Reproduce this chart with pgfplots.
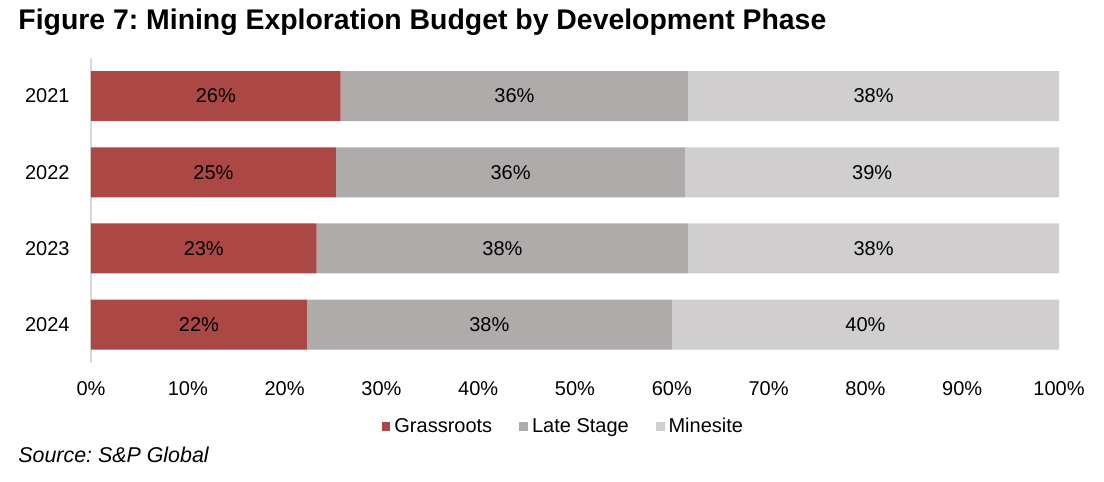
\documentclass[border=0pt]{standalone}
\usepackage{fontspec}
\setmainfont{Liberation Sans}
\usepackage{pgfplots}
\pgfplotsset{compat=1.18}
\usepackage{pgfplotstable}
\definecolor{cG}{RGB}{171,71,68}
\definecolor{cL}{RGB}{175,171,170}
\definecolor{cM}{RGB}{208,206,207}
\definecolor{axgray}{RGB}{217,217,217}

\pgfplotstableread{
y G L M
3 25.8 35.9 38.3
2 25.3 36.1 38.6
1 23.3 38.4 38.3
0 22.3 37.7 40.0
}\budget

% label positions (segment midpoints) and printed values
\pgfplotstableread{
x y v
12.9 3 26
43.75 3 36
80.85 3 38
12.65 2 25
43.35 2 36
80.7 2 39
11.65 1 23
42.5 1 38
80.85 1 38
11.15 0 22
41.15 0 38
80.0 0 40
}\labels

\pgfplotsset{
  /pgf/number format/assume math mode=true,
  common/.style={
    at={(45.5pt,59.65pt)}, anchor=south west,
    width=484pt, height=152.35pt, scale only axis,
    xmin=0, xmax=100, ymin=-0.5, ymax=3.5,
  }
}

\begin{document}
\frenchspacing
\begin{tikzpicture}
\path[use as bounding box] (0,0) rectangle (552pt,241pt);
\begin{axis}[
  common,
  xbar stacked, bar width=25pt,
  axis lines*=left,
  x axis line style={draw=none},
  y axis line style={draw=axgray, line width=0.8pt},
  major tick length=0pt,
  ytick={0,1,2,3}, yticklabels={2024,2023,2022,2021},
  xtick={0,10,...,100},
  xticklabel={\pgfmathprintnumber{\tick}\%},
  xticklabel style={anchor=base, inner sep=0pt, yshift=-16.2pt},
  yticklabel style={anchor=east, inner sep=0pt, xshift=-10.5pt},
  tick label style={font=\fontsize{10}{12}\selectfont},
  legend style={at={(0.489,-0.21)}, anchor=center, draw=none,
    legend columns=3, font=\fontsize{10}{12}\selectfont,
    /tikz/every even column/.append style={column sep=11.5pt},
    inner sep=0pt},
  legend image code/.code={\fill[#1] (0pt,-2.2pt) rectangle (4.4pt,2.2pt);},
]
\addplot[fill=cG, draw=none] table[x=G, y=y]{\budget};
\addlegendentry{Grassroots}
\addplot[fill=cL, draw=none] table[x=L, y=y]{\budget};
\addlegendentry{Late Stage}
\addplot[fill=cM, draw=none] table[x=M, y=y]{\budget};
\addlegendentry{Minesite}
\end{axis}
\begin{axis}[common, hide axis]
\addplot[draw=none, mark=none, point meta=explicit,
  nodes near coords={\pgfmathprintnumber{\pgfplotspointmeta}\%},
  every node near coord/.append style={anchor=center, font=\fontsize{10}{12}\selectfont, text=black}]
  table[x=x, y=y, meta=v]{\labels};
\end{axis}
\node[anchor=base west, inner sep=0pt, font=\fontsize{14.2}{17}\selectfont\bfseries] at (9pt,226pt) {Figure 7: Mining Exploration Budget by Development Phase};
\node[anchor=base west, inner sep=0pt, font=\fontsize{10.7}{13}\selectfont\itshape] at (9pt,9.8pt) {Source: S\&P Global};
\end{tikzpicture}
\end{document}
